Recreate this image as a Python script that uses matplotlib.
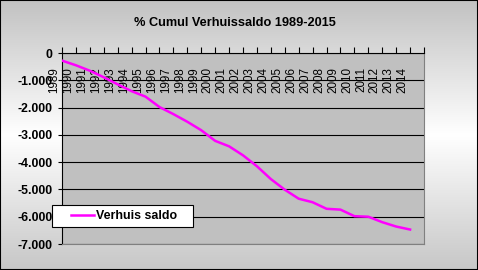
import matplotlib
matplotlib.use('Agg')
import matplotlib.pyplot as plt
from matplotlib.patches import Rectangle
import numpy as np

plt.rcParams['font.family'] = ['Liberation Sans', 'DejaVu Sans']

# data
years = [str(y) for y in range(1989, 2015)]
saldo = [-280, -450, -650, -890, -1150, -1400, -1600, -1980, -2240, -2520,
         -2830, -3220, -3420, -3750, -4150, -4620, -5010, -5340, -5470, -5710,
         -5740, -5980, -6000, -6200, -6360, -6470]
yticks = [-7000, -6000, -5000, -4000, -3000, -2000, -1000, 0]
ylabels = ['-7.000', '-6.000', '-5.000', '-4.000', '-3.000', '-2.000', '-1.000', '0']
title = '% Cumul Verhuissaldo 1989-2015'
series_name = 'Verhuis saldo'

W, H = 478, 270
fig = plt.figure(figsize=(W / 100, H / 100), dpi=100)

# background gradient: grey - white - grey (vertical)
bg = fig.add_axes([0, 0, 1, 1], zorder=-10)
t = np.linspace(0, 1, 270)
shade = np.interp(t, [0, 0.5, 1], [0.76, 1.0, 0.78])
bg.imshow(np.tile(shade[:, None, None], (1, 10, 3)), aspect='auto', extent=[0, 1, 0, 1])
bg.set_axis_off()

ax = fig.add_axes([62 / W, 1 - 244 / H, 362 / W, 191 / H])
ax.set_facecolor('#c0c0c0')

x = np.arange(len(years))
ax.plot(x, saldo, color='#ff00ff', lw=1.8, label=series_name, zorder=5)

ax.set_xlim(0, len(years))
ax.set_ylim(-7000, 0)

ax.set_yticks(yticks, ylabels)
ax.tick_params(axis='y', direction='out', length=3, width=0.8, pad=4,
               labelsize=8.8, colors='black')
for lab in ax.get_yticklabels():
    lab.set_fontweight('bold')

# category axis sits at y=0 (top), tick marks point up, labels hang below
ax.xaxis.tick_top()
ax.set_xticks(np.arange(len(years) + 1))
ax.tick_params(axis='x', direction='out', length=4.5, width=0.8, labeltop=False)
for k, yr in enumerate(years):
    ax.annotate(yr, xy=(k, 0), xycoords='data', xytext=(-1, -10),
                textcoords='offset points', rotation=90, ha='right', va='top',
                fontsize=8.4, annotation_clip=False)

ax.yaxis.grid(True, color='black', lw=0.8)
ax.set_axisbelow(True)
ax.spines['top'].set_color('black')
ax.spines['left'].set_color('black')
ax.spines['right'].set_color('#808080')
ax.spines['bottom'].set_color('#808080')
for s in ax.spines.values():
    s.set_linewidth(0.8)

fig.text(235 / W, 1 - 22.5 / H, title, ha='center', va='center',
         fontsize=9.2, fontweight='bold')

# legend box
fig.patches.append(Rectangle((52 / W, 1 - 227 / H), 141 / W, 22 / H,
                             transform=fig.transFigure, facecolor='white',
                             edgecolor='black', lw=0.8, zorder=20))
leg = fig.legend(loc='center left', bbox_to_anchor=(71 / W, 1 - 216 / H),
                 frameon=False, handlelength=1.9, handletextpad=0.15,
                 borderaxespad=0, borderpad=0, prop={'size': 8.9, 'weight': 'bold'})
leg.set_zorder(21)

fig.patches.append(Rectangle((0, 0), 1, 1, transform=fig.transFigure,
                             facecolor='none', edgecolor='black', lw=1.5, zorder=30))

fig.savefig('out.png', dpi=100)
